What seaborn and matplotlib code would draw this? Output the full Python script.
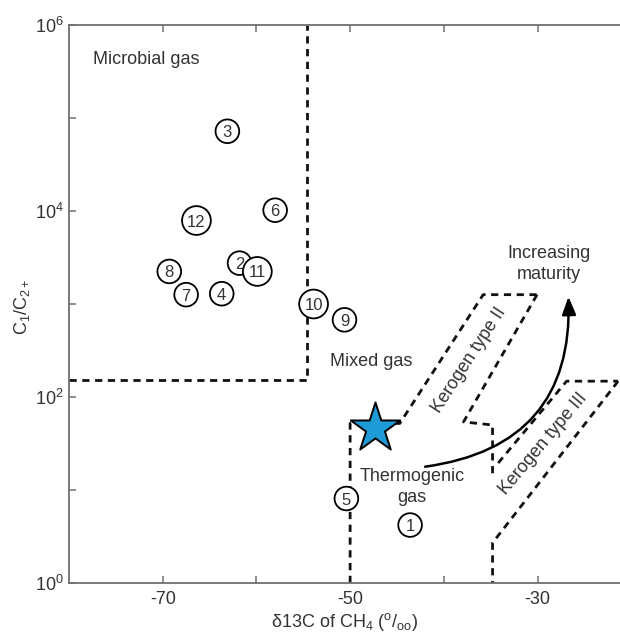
import numpy as np
import pandas as pd
import matplotlib
matplotlib.use("Agg")
import matplotlib.pyplot as plt
from matplotlib.ticker import FixedLocator, NullFormatter, LogFormatterSciNotation
import seaborn as sns

# Gas samples: carbon isotope of methane vs. C1/C2+ ratio
sample_labels = ["1", "2", "3", "4", "5", "6", "7", "8", "9", "10", "11", "12"]
d13c_ch4 = [-43.6, -61.8, -63.1, -63.7, -50.4, -58.0, -67.5, -69.3, -50.6, -53.9, -59.9, -66.4]
c1_c2_ratio = [4.2, 2750, 72000, 1290, 8.1, 10200, 1260, 2240, 676, 1000, 2240, 7900]

# Highlighted sample (star)
star_d13c = [-47.3]
star_ratio = [46]

# Field boundaries (Bernard-type diagram)
microbial_x = [-80, -54.6, -54.6]
microbial_y = [152, 152, 1e6]
thermo_x = [-50, -50, -44.7, -35.8, -30.05]
thermo_y = [1, 52, 52, 1260, 1260]
kerogen2_x = [-30.05, -37.9, -34.8, -34.8]
kerogen2_y = [1260, 54, 50, 15]
kerogen3_inner_x = [-34.2, -26.9, -21.4]
kerogen3_inner_y = [19.5, 148, 148]
kerogen3_outer_x = [-21.4, -34.8, -34.8]
kerogen3_outer_y = [148, 2.7, 1]

sns.set_theme(style="ticks")
plt.rcParams["font.family"] = ["Liberation Sans", "DejaVu Sans"]
plt.rcParams["mathtext.fontset"] = "custom"
plt.rcParams["mathtext.rm"] = "Liberation Sans"
plt.rcParams["mathtext.it"] = "Liberation Sans:italic"
plt.rcParams["mathtext.bf"] = "Liberation Sans:bold"
plt.rcParams["axes.unicode_minus"] = False

TXT = "#333333"
SPINE = "#707070"

fig = plt.figure(figsize=(6.2, 6.32), dpi=100)
ax = fig.add_axes([69 / 620, 49 / 632, 551 / 620, 558 / 632])
ax.set_yscale("log")
ax.set_xlim(-80, -21.2)
ax.set_ylim(1, 1e6)

dash_kw = dict(color="#111111", lw=2.0, dashes=(2.6, 2.0), solid_capstyle="butt")
for bx, by in [(microbial_x, microbial_y), (thermo_x, thermo_y), (kerogen2_x, kerogen2_y),
               (kerogen3_inner_x, kerogen3_inner_y), (kerogen3_outer_x, kerogen3_outer_y)]:
    ax.plot(bx, by, **dash_kw, zorder=2)

df = pd.DataFrame({"label": sample_labels, "d13C": d13c_ch4, "ratio": c1_c2_ratio})
df["digits"] = df["label"].str.len()
sns.scatterplot(data=df, x="d13C", y="ratio", size="digits", sizes={1: 290, 2: 430},
                color="white", edgecolor="black", linewidth=1.3, legend=False, ax=ax, zorder=4)
for _, r in df.iterrows():
    ax.text(r["d13C"], r["ratio"], r["label"], ha="center", va="center_baseline",
            fontsize=12, color=TXT, zorder=5)

sns.scatterplot(x=star_d13c, y=star_ratio, marker="*", s=1400, color="#1e9ad6",
                edgecolor="black", linewidth=1.4, legend=False, ax=ax, zorder=5)

# Maturity arrow
ax.annotate("", xy=(-26.7, 1200), xytext=(-42.0, 17.8),
            arrowprops=dict(arrowstyle="-|>,head_length=0.9,head_width=0.35",
                            connectionstyle="arc3,rad=0.45", color="black", lw=1.8,
                            shrinkA=0, shrinkB=0), zorder=3)

fs = 13
ax.text(-77.4, 10 ** (6 - 35 / 93), "Microbial gas", fontsize=fs, color=TXT, va="center", ha="left")
ax.text(-52.2, 10 ** (6 - 337 / 93), "Mixed gas", fontsize=fs, color=TXT, va="center", ha="left")
ax.text(-43.4, 10 ** (6 - 462 / 93), "Thermogenic\ngas", fontsize=fs, color=TXT,
        va="center", ha="center", linespacing=1.3)
ax.text(-28.8, 10 ** (6 - 239 / 93), "Increasing\nmaturity", fontsize=fs, color=TXT,
        va="center", ha="center", linespacing=1.35)
ax.text(-37.3, 10 ** (6 - 335 / 93), "Kerogen type II", fontsize=fs, color=TXT,
        va="center", ha="center", rotation=57, rotation_mode="anchor")
ax.text(-29.4, 10 ** (6 - 419 / 93), "Kerogen type III", fontsize=fs, color=TXT,
        va="center", ha="center", rotation=50, rotation_mode="anchor")

# Axes styling
ax.xaxis.set_major_locator(FixedLocator([-70, -50, -30]))
ax.xaxis.set_minor_locator(FixedLocator([-60, -40]))
ax.yaxis.set_major_locator(FixedLocator([1, 1e2, 1e4, 1e6]))
ax.yaxis.set_minor_locator(FixedLocator([10, 1e3, 1e5]))
ax.yaxis.set_major_formatter(LogFormatterSciNotation())
ax.yaxis.set_minor_formatter(NullFormatter())
ax.tick_params(which="both", direction="in", length=5, width=1.1, color=SPINE,
               top=True, right=False, labelsize=13, labelcolor=TXT)
ax.tick_params(axis="x", pad=6)
ax.tick_params(axis="y", pad=4)
for side in ["left", "bottom", "top"]:
    ax.spines[side].set_color(SPINE)
    ax.spines[side].set_linewidth(1.3)
ax.spines["right"].set_visible(False)

ax.set_xlabel(r"δ13C of CH$_4$ ($^{\rm o}$/$_{\rm oo}$)", fontsize=13, color=TXT, labelpad=2)
ax.set_ylabel(r"C$_1$/C$_{2+}$", fontsize=13, color=TXT)
ax.yaxis.set_label_coords(-0.068, 0.495)

fig.savefig("out.png", dpi=100)
